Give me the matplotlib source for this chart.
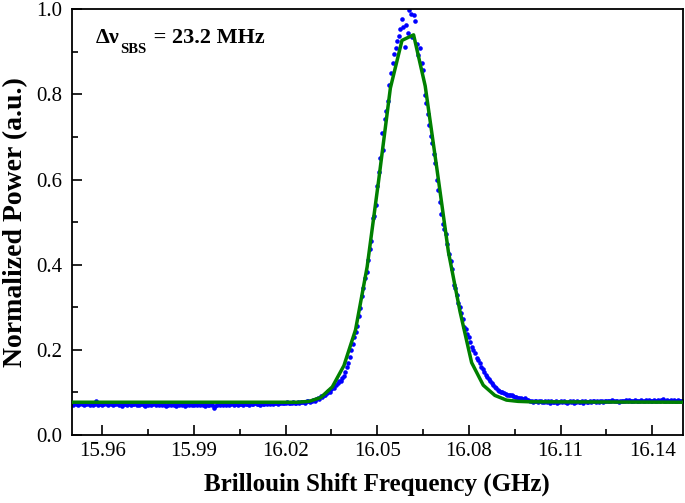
import numpy as np
import matplotlib
matplotlib.use("Agg")
import matplotlib.pyplot as plt
from matplotlib.ticker import MultipleLocator, FixedLocator

plt.rcParams['font.family'] = ['Liberation Serif', 'DejaVu Serif']

# ---- measured data (frequency grid: start + step * index, GHz) ----
freq_step = 0.0005

left_start = 15.950
left_power = [
    0.073, 0.071, 0.074, 0.072, 0.070, 0.073, 0.075, 0.072, 0.071, 0.073,
    0.072, 0.074, 0.070, 0.073, 0.071, 0.072, 0.079, 0.071, 0.073, 0.072,
    0.070, 0.073, 0.075, 0.072, 0.071, 0.074, 0.072, 0.070, 0.073, 0.072,
    0.074, 0.071, 0.072, 0.069, 0.073, 0.072, 0.071, 0.074, 0.072, 0.070,
    0.073, 0.072, 0.074, 0.071, 0.070, 0.072, 0.073, 0.071, 0.069, 0.072,
    0.071, 0.073, 0.070, 0.072, 0.074, 0.071, 0.072, 0.070, 0.073, 0.071,
    0.072, 0.070, 0.069, 0.071, 0.073, 0.070, 0.072, 0.071, 0.068, 0.072,
    0.071, 0.073, 0.070, 0.072, 0.069, 0.071, 0.073, 0.070, 0.072, 0.071,
    0.070, 0.072, 0.071, 0.073, 0.070, 0.072, 0.071, 0.069, 0.072, 0.070,
    0.071, 0.073, 0.070, 0.064, 0.068, 0.071, 0.072, 0.070, 0.073, 0.071,
    0.072, 0.070, 0.073, 0.071, 0.072, 0.074, 0.071, 0.073, 0.072, 0.070,
    0.073, 0.072, 0.071, 0.074, 0.072, 0.073, 0.071, 0.074, 0.072, 0.073,
    0.074, 0.072, 0.073, 0.071, 0.074, 0.073, 0.072, 0.075, 0.073, 0.074,
    0.073, 0.075, 0.072, 0.074, 0.076, 0.073, 0.075, 0.074, 0.076, 0.074,
    0.075, 0.077, 0.074, 0.076, 0.075, 0.077, 0.076, 0.075, 0.077, 0.076,
    0.078,
]

peak_start = 16.0255
peak_power = [
    0.077, 0.078, 0.076, 0.079, 0.080, 0.078, 0.081, 0.082, 0.080, 0.084,
    0.086, 0.085, 0.092, 0.090, 0.095, 0.094, 0.099, 0.103, 0.101, 0.108,
    0.112, 0.110, 0.117, 0.121, 0.128, 0.126, 0.133, 0.138, 0.148, 0.160,
    0.170, 0.184, 0.200, 0.214, 0.231, 0.241, 0.256, 0.280, 0.298, 0.326,
    0.345, 0.369, 0.384, 0.412, 0.438, 0.456, 0.510, 0.514, 0.540, 0.585,
    0.618, 0.650, 0.710, 0.670, 0.742, 0.760, 0.784, 0.822, 0.851, 0.874,
    0.896, 0.909, 0.925, 0.938, 0.953, 0.978, 0.958, 0.912, 0.962, 0.944,
    0.998, 0.990, 0.935, 0.986, 0.973, 0.919, 0.892, 0.908, 0.873, 0.857,
    0.798, 0.779, 0.755, 0.728, 0.702, 0.685, 0.661, 0.638, 0.600, 0.575,
    0.548, 0.520, 0.495, 0.485, 0.473, 0.448, 0.426, 0.408, 0.391, 0.352,
    0.345, 0.330, 0.309, 0.300, 0.286, 0.272, 0.254, 0.249, 0.238, 0.231,
    0.218, 0.207, 0.200, 0.192, 0.180, 0.176, 0.168, 0.160, 0.154, 0.148,
    0.141, 0.137, 0.131, 0.127, 0.122, 0.117, 0.113, 0.110, 0.106, 0.104,
    0.102, 0.100, 0.098, 0.097, 0.095, 0.094, 0.093, 0.094, 0.091, 0.090,
    0.089, 0.088, 0.086, 0.087, 0.085, 0.084, 0.087, 0.083, 0.082, 0.081,
]

right_start = 16.1005
right_power = [
    0.080, 0.078, 0.079, 0.081, 0.077, 0.079, 0.080, 0.078, 0.077, 0.079,
    0.078, 0.080, 0.076, 0.079, 0.078, 0.077, 0.079, 0.076, 0.078, 0.080,
    0.077, 0.079, 0.078, 0.075, 0.078, 0.080, 0.077, 0.079, 0.076, 0.078,
    0.079, 0.077, 0.078, 0.080, 0.076, 0.079, 0.078, 0.077, 0.080, 0.078,
    0.079, 0.081, 0.078, 0.080, 0.077, 0.079, 0.081, 0.078, 0.080, 0.079,
    0.081, 0.079, 0.080, 0.082, 0.079, 0.081, 0.080, 0.078, 0.081, 0.080,
    0.079, 0.081, 0.083, 0.080, 0.082, 0.079, 0.081, 0.080, 0.082, 0.079,
    0.081, 0.080, 0.082, 0.079, 0.081, 0.083, 0.080, 0.082, 0.081, 0.079,
    0.082, 0.080, 0.081, 0.083, 0.080, 0.082, 0.084, 0.081, 0.080, 0.082,
    0.081, 0.083, 0.080, 0.082, 0.081, 0.079, 0.082, 0.080, 0.081, 0.080,
]

# ---- fitted curve ----
fit_freq = [15.950, 16.0239, 16.0277, 16.0315, 16.0353, 16.0391, 16.0429,
            16.0467, 16.0505, 16.0543, 16.0581, 16.0619, 16.0657, 16.0695,
            16.0733, 16.0771, 16.0809, 16.0847, 16.0885, 16.0923, 16.0961,
            16.0999, 16.150]
fit_power = [0.077, 0.077, 0.079, 0.088, 0.113, 0.163, 0.247, 0.395,
             0.600, 0.815, 0.927, 0.940, 0.820, 0.627, 0.430, 0.290,
             0.170, 0.117, 0.093, 0.082, 0.079, 0.078, 0.077]

x_ticks = [15.96, 15.99, 16.02, 16.05, 16.08, 16.11, 16.14]
x_tick_labels = ["15.96", "15.99", "16.02", "16.05", "16.08", "16.11", "16.14"]
y_ticks = [0.0, 0.2, 0.4, 0.6, 0.8, 1.0]
y_tick_labels = ["0.0", "0.2", "0.4", "0.6", "0.8", "1.0"]

# ---- build series ----
freq = np.concatenate([
    left_start + freq_step * np.arange(len(left_power)),
    peak_start + freq_step * np.arange(len(peak_power)),
    right_start + freq_step * np.arange(len(right_power)),
])
power = np.concatenate([left_power, peak_power, right_power])

fig = plt.figure(figsize=(6.85, 5.03), dpi=100)
ax = fig.add_axes([0.1047, 0.1352, 0.892, 0.8463])

ax.plot(freq, power, linestyle='none', marker='o', markersize=3.3,
        markeredgewidth=0, color='#0000ff', zorder=2)
ax.plot(fit_freq, fit_power, color='#008000', linewidth=2.5, zorder=3)

ax.set_xlim(15.95, 16.15)
ax.set_ylim(0.0, 1.0)
ax.xaxis.set_major_locator(FixedLocator(x_ticks))
ax.set_xticklabels(x_tick_labels)
ax.xaxis.set_minor_locator(MultipleLocator(0.015))
ax.yaxis.set_major_locator(FixedLocator(y_ticks))
ax.set_yticklabels(y_tick_labels)
ax.yaxis.set_minor_locator(MultipleLocator(0.1))

ax.tick_params(which='both', direction='in', top=False, right=False,
               width=1.2, labelsize=15)
ax.tick_params(axis='x', which='major', pad=5)
ax.tick_params(axis='y', which='major', pad=7)
ax.tick_params(which='major', length=7)
ax.tick_params(which='minor', length=4)
for s in ax.spines.values():
    s.set_linewidth(1.3)

ax.set_xlabel('Brillouin Shift Frequency (GHz)', fontsize=18,
              fontweight='bold')
ax.set_ylabel('Normalized Power (a.u.)', fontsize=20,
              fontweight='bold')
ax.xaxis.set_label_coords(0.5, -0.088)
ax.yaxis.set_label_coords(-0.072, 0.5)

# annotation: Δν with lowered subscript SBS
t1 = ax.text(15.9579, 0.921, 'Δν', fontsize=16, fontweight='bold',
             va='baseline', ha='left')
t2 = ax.annotate('SBS', xy=(1, 0), xycoords=t1, xytext=(0.3, -5.8),
                 textcoords='offset points', fontsize=10.5, fontweight='bold',
                 va='bottom', ha='left')
t3 = ax.annotate(' = 23.2 MHz', xy=(1, 0), xycoords=(t2, t1),
                 xytext=(1, 0), textcoords='offset points', fontsize=16,
                 fontweight='bold', va='bottom', ha='left')

fig.savefig('out.png', dpi=100)
